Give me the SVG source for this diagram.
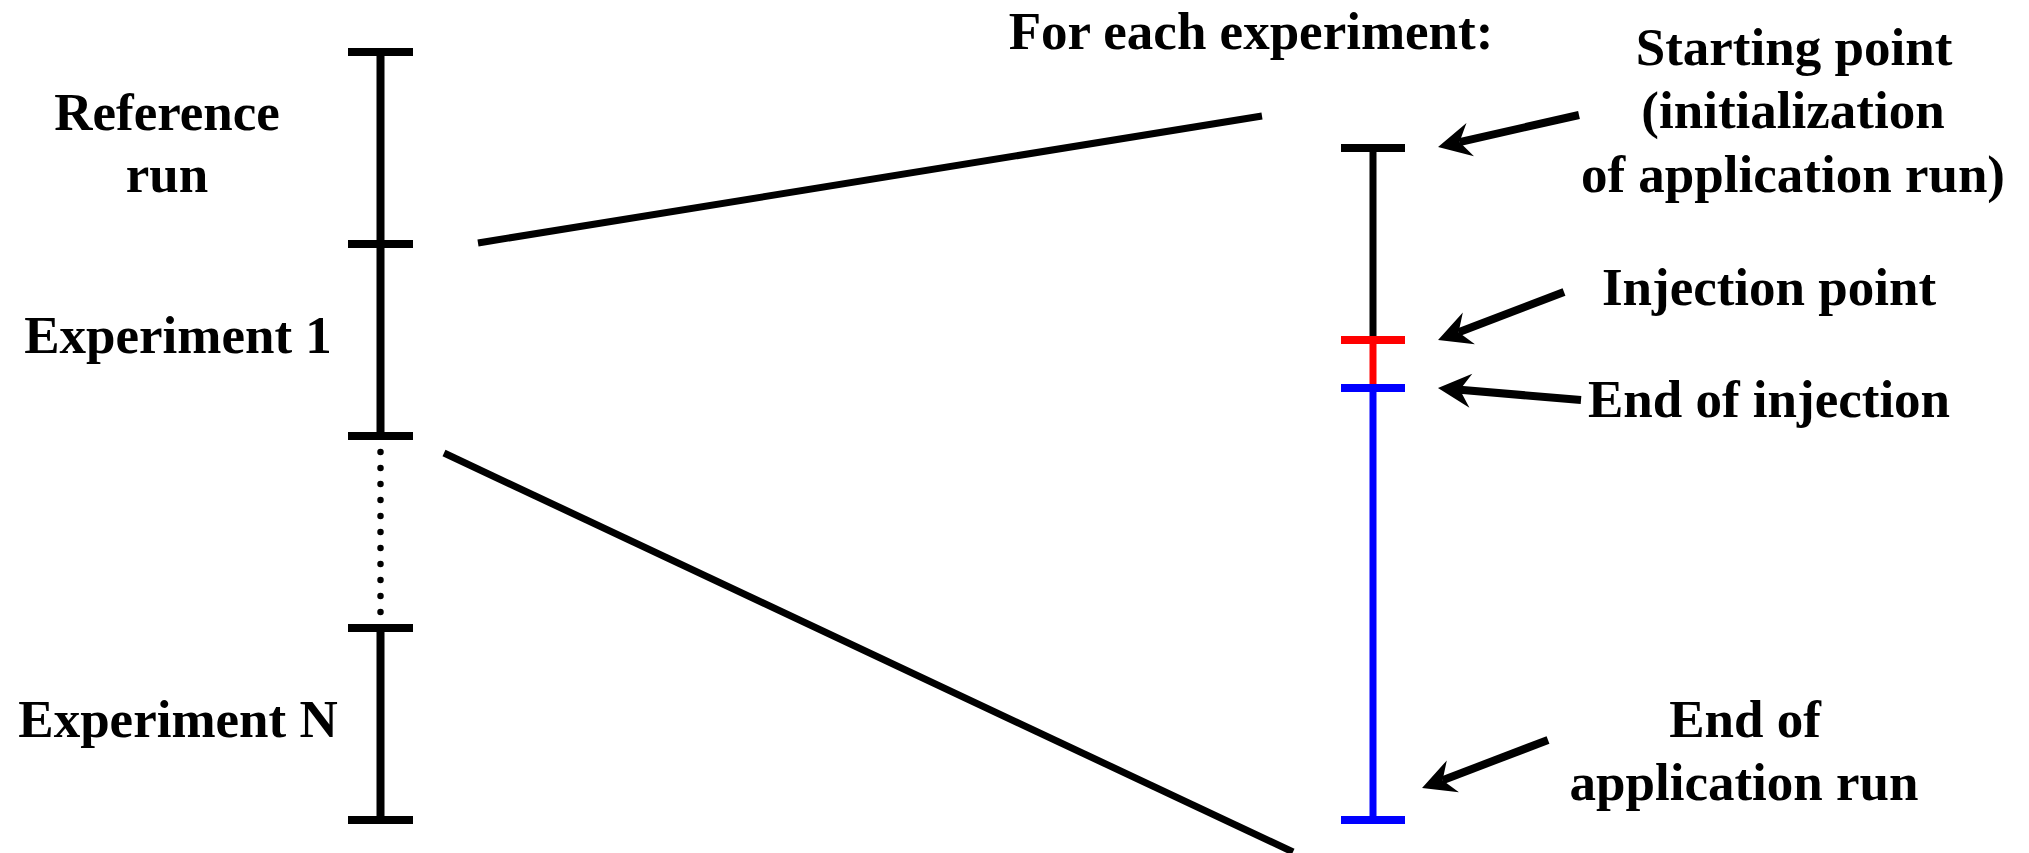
<svg xmlns="http://www.w3.org/2000/svg" width="2029" height="853" viewBox="0 0 2029 853">
  <style>
    text { font-family: "Liberation Serif", "Times New Roman", serif; font-weight: bold; font-size: 53px; fill: #000; text-anchor: middle; }
    .k { stroke: #000; fill: none; }
    .bar { stroke-width: 8; }
    .rbar { stroke-width: 7; }
    .conn { stroke: #000; stroke-width: 7; fill: none; }
    .arr { stroke: #000; stroke-width: 8; fill: none; marker-end: url(#head); }
  </style>
  <defs>
    <marker id="head" markerUnits="userSpaceOnUse" orient="auto" refX="0" refY="0" markerWidth="40" markerHeight="40" overflow="visible">
      <path d="M22,0 L-11,-17 L0,0 L-11,17 Z" fill="#000"/>
    </marker>
  </defs>
  <rect width="2029" height="853" fill="#fff"/>

  <g id="left-timeline">
    <line class="k bar" x1="380.5" y1="52" x2="380.5" y2="436"/>
    <line class="k bar" x1="380.5" y1="628" x2="380.5" y2="820"/>
    <line class="k bar" x1="348" y1="52" x2="413" y2="52"/>
    <line class="k bar" x1="348" y1="244" x2="413" y2="244"/>
    <line class="k bar" x1="348" y1="436" x2="413" y2="436"/>
    <line class="k bar" x1="348" y1="628" x2="413" y2="628"/>
    <line class="k bar" x1="348" y1="820" x2="413" y2="820"/>
    <line x1="380.5" y1="452" x2="380.5" y2="613" stroke="#000" stroke-width="6.5" stroke-linecap="round" stroke-dasharray="0 16"/>
  </g>

  <g id="left-labels">
    <text x="167" y="130">Reference</text>
    <text x="167" y="192">run</text>
    <text x="178" y="353">Experiment 1</text>
    <text x="178" y="737">Experiment N</text>
  </g>

  <g id="right-timeline">
    <line x1="1373" y1="148" x2="1373" y2="340" stroke="#000" class="rbar"/>
    <line x1="1373" y1="340" x2="1373" y2="388" stroke="#ff0000" class="rbar"/>
    <line x1="1373" y1="388" x2="1373" y2="820" stroke="#0000ff" class="rbar"/>
    <line x1="1341" y1="148" x2="1405" y2="148" stroke="#000" stroke-width="8"/>
    <line x1="1341" y1="340" x2="1405" y2="340" stroke="#ff0000" stroke-width="8"/>
    <line x1="1341" y1="388" x2="1405" y2="388" stroke="#0000ff" stroke-width="8"/>
    <line x1="1341" y1="820" x2="1405" y2="820" stroke="#0000ff" stroke-width="8"/>
  </g>

  <g id="right-labels">
    <text x="1251" y="49">For each experiment:</text>
    <text x="1794" y="65">Starting point</text>
    <text x="1793" y="128">(initialization</text>
    <text x="1793" y="192">of application run)</text>
    <text x="1769" y="305">Injection point</text>
    <text x="1769" y="417">End of injection</text>
    <text x="1745" y="737">End of</text>
    <text x="1744" y="800">application run</text>
  </g>

  <g id="connectors">
    <line class="conn" x1="478" y1="243" x2="1262" y2="116"/>
    <line class="conn" x1="444" y1="453" x2="1293" y2="852"/>
    <line class="arr" x1="1579" y1="115" x2="1459.5" y2="142.1"/>
    <line class="arr" x1="1564" y1="292" x2="1458.6" y2="332.2"/>
    <line class="arr" x1="1581" y1="400" x2="1459.9" y2="389.8"/>
    <line class="arr" x1="1548" y1="740" x2="1442.6" y2="780.2"/>
  </g>
</svg>
